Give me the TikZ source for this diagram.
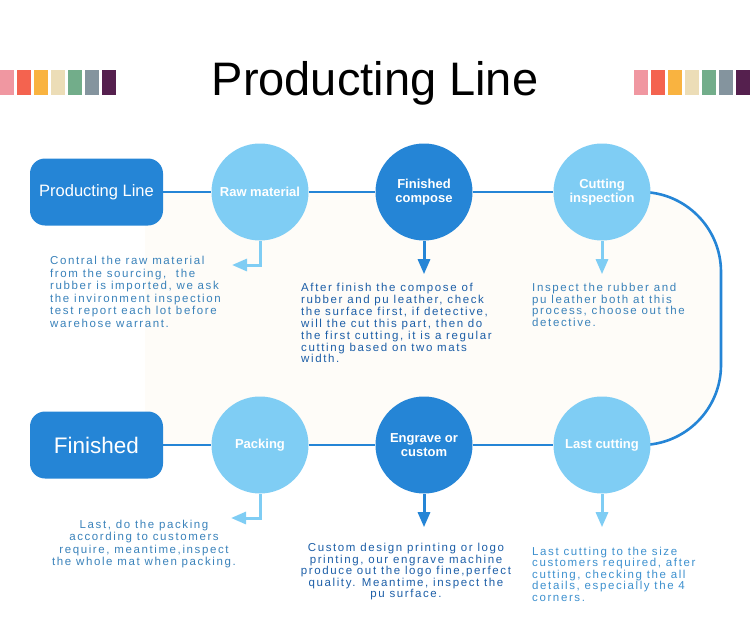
\documentclass[tikz,border=0pt]{standalone}
\usepackage{fontspec}
\setmainfont{Liberation Sans}
\newfontfamily\notefont[LetterSpace=14]{Liberation Sans}
\usetikzlibrary{arrows.meta,positioning,backgrounds}
\definecolor{lineblue}{HTML}{2585D6}
\definecolor{skyblue}{HTML}{7FCDF4}
\definecolor{notemid}{HTML}{3A82BA}
\definecolor{notedark}{HTML}{1C5EA7}
\definecolor{notelight}{HTML}{3D90CE}
\definecolor{bgcream}{HTML}{FEFCF8}
\definecolor{barpink}{HTML}{F097A1}
\definecolor{barred}{HTML}{F4634F}
\definecolor{barorange}{HTML}{F9B340}
\definecolor{barcream}{HTML}{ECDDB7}
\definecolor{bargreen}{HTML}{72AD8A}
\definecolor{bargrey}{HTML}{84949E}
\definecolor{barplum}{HTML}{55204E}

\tikzset{
  stepbox/.style={rectangle,rounded corners=15pt,fill=lineblue,text=white,minimum width=133pt,minimum height=67pt,inner sep=0pt},
  lightdot/.style={circle,fill=skyblue,text=white,minimum size=97pt,inner sep=0pt,align=center,font=\bfseries\fontsize{13}{14}\selectfont},
  darkdot/.style={lightdot,fill=lineblue},
  link/.style={lineblue,line width=2.6pt},
  pointer/.style={line width=3pt,-{Triangle[length=15pt,width=12pt]}},
  note/.style={inner sep=0pt,font=\notefont\fontsize{11.5}{#1}\selectfont},
  note/.default=12.3,
}

\begin{document}
\begin{tikzpicture}[x=1pt,y=-1pt]
  \useasboundingbox (0,0) rectangle (750,640);
  % colour bars and title
  \foreach [count=\i] \c in {barpink,barred,barorange,barcream,bargreen,bargrey,barplum}{
    \fill[\c] ({(\i-1)*17},70) rectangle ({(\i-1)*17+14},95);
    \fill[\c] ({634+(\i-1)*17},70) rectangle ({648+(\i-1)*17},95);
  }
  \node[font=\fontsize{47}{50}\selectfont,anchor=base] (title) at (375,95) {Producting Line};

  % top row
  \node[stepbox,font=\fontsize{16.5}{18}\selectfont] (prodline) at (96.5,192) {Producting Line};
  \node[lightdot] (raw) at (260,192) {Raw material};
  \node[darkdot] (compose) at (424,192) {Finished\\compose};
  \node[lightdot] (cutinsp) at (602,192) {Cutting\\inspection};
  % bottom row
  \node[stepbox,font=\fontsize{22.5}{24}\selectfont] (finished) at (96.5,445) {Finished};
  \node[lightdot] (pack) at (260,445) {Packing};
  \node[darkdot] (engrave) at (424,445) {Engrave or\\custom};
  \node[lightdot] (lastcut) at (602,445) {Last cutting};

  \coordinate (loopx) at (721,0);
  \begin{scope}[on background layer]
    \fill[bgcream] (145,192) [rounded corners=80pt] -- (721,192) -- (721,445) [sharp corners] -- (145,445) -- cycle;
    \draw[link,rounded corners=80pt] (cutinsp.center) -- (cutinsp.center -| loopx) -- (lastcut.center -| loopx) -- (lastcut.center);
  \end{scope}
  \draw[link] (prodline) -- (raw) -- (compose) -- (cutinsp);
  \draw[link] (finished) -- (pack) -- (engrave) -- (lastcut);

  % pointers
  \coordinate (rawtip) at (232,265);
  \coordinate (packtip) at (231,518);
  \coordinate[below=33.5pt of compose] (composetip);
  \coordinate[below=33.5pt of cutinsp] (cutinsptip);
  \coordinate[below=33.5pt of engrave] (engravetip);
  \coordinate[below=33.5pt of lastcut] (lastcuttip);
  \draw[pointer,skyblue] (raw.south) |- (rawtip);
  \draw[pointer,skyblue] (pack.south) |- (packtip);
  \draw[pointer,lineblue] (compose) -- (composetip);
  \draw[pointer,skyblue] (cutinsp) -- (cutinsptip);
  \draw[pointer,lineblue] (engrave) -- (engravetip);
  \draw[pointer,skyblue] (lastcut) -- (lastcuttip);

  % notes
  \node[note=12.5,text=notemid,anchor=north west,align=left] (rawnote) at (50,256)
    {Contral the raw material\\from the sourcing,~~the\\rubber is imported, we ask\\the invironment inspection\\test report each lot before\\warehose warrant.};
  \node[note=11.9,text=notedark,anchor=north west,align=left] (composenote) at (301,283)
    {After finish the compose of\\rubber and pu leather, check\\the surface first, if detective,\\will the cut this part, then do\\the first cutting, it is a regular\\cutting based on two mats\\width.};
  \node[note=11.7,text=notemid,anchor=north west,align=left] (cutinspnote) at (532,283)
    {Inspect the rubber and\\pu leather both at this\\process, choose out the\\detective.};
  \node[note,text=notemid,anchor=north,align=center] (packnote) at (144,520)
    {Last, do the packing\\according to customers\\require, meantime,inspect\\the whole mat when packing.};
  \node[note=11.6,text=notedark,anchor=north,align=center] (engravenote) at (406,543)
    {Custom design printing or logo\\printing, our engrave machine\\produce out the logo fine,perfect\\quality. Meantime, inspect the\\pu surface.};
  \node[note=11.4,text=notelight,anchor=north west,align=left] (lastcutnote) at (532,547)
    {Last cutting to the size\\customers required, after\\cutting, checking the all\\details, especially the 4\\corners.};
\end{tikzpicture}
\end{document}
